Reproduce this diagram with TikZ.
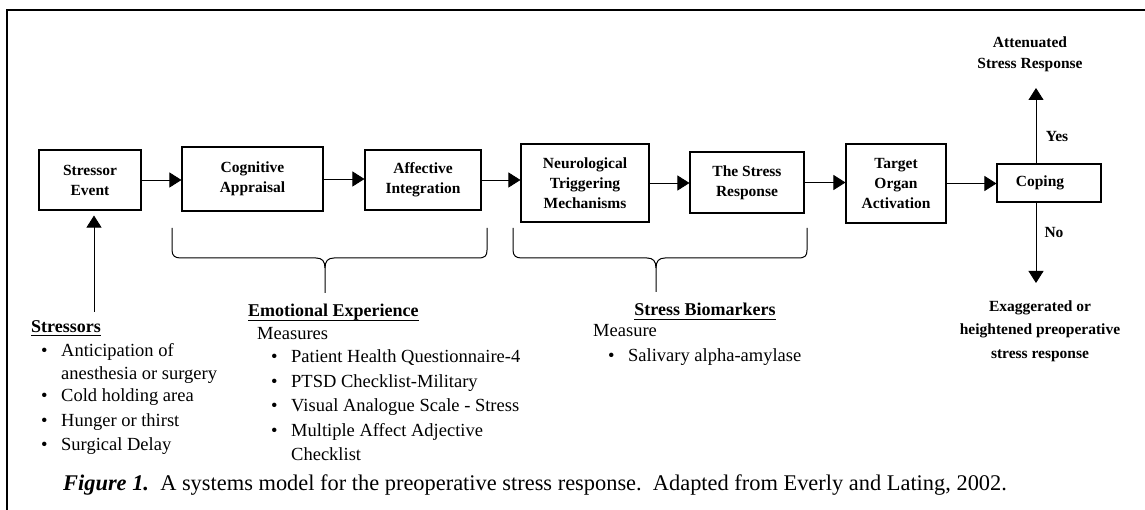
\documentclass[tikz,border=0pt]{standalone}
\usepackage{fontspec}
\setmainfont{Liberation Serif}
\usetikzlibrary{arrows.meta}
\newcommand{\bul}[1]{\makebox[20pt][l]{\textbullet}#1}
\begin{document}
\begin{tikzpicture}[x=1pt,y=-1pt,
  box/.style={draw, line width=1.1pt, align=center, inner sep=0pt, font=\fontsize{15.5}{20}\selectfont\bfseries},
  flow/.style={line width=0.8pt, -{Triangle[length=12pt,width=15pt]}},
  lbl/.style={align=center, inner sep=0pt, font=\fontsize{15.5}{21}\selectfont\bfseries},
  txt/.style={anchor=base west, inner sep=0pt, font=\fontsize{18.5}{20}\selectfont},
  head/.style={txt, font=\fontsize{18}{20}\selectfont\bfseries},
  uline/.style={line width=0.9pt},
  brace/.style={line width=1pt}
]
\useasboundingbox (0,0) rectangle (1145,510);
\draw[line width=1.5pt] (7,510) -- (7,10) -- (1145,10);

% boxes
\node[box, minimum width=102pt, minimum height=60pt] (se) at (90,180) {Stressor\\Event};
\node[box, minimum width=141pt, minimum height=64pt] (ca) at (252.5,179) {Cognitive\\Appraisal};
\node[box, minimum width=116pt, minimum height=60pt] (ai) at (423,180) {Affective\\Integration};
\node[box, minimum width=128pt, minimum height=78pt] (nt) at (585,183) {Neurological\\Triggering\\Mechanisms};
\node[box, minimum width=114pt, minimum height=61pt] (sr) at (747,182.5) {The Stress\\Response};
\node[box, minimum width=100pt, minimum height=79pt] (to) at (896,183.5) {Target\\Organ\\Activation};
\node[box, minimum width=104pt, minimum height=38pt] (cp) at (1049,183) {\hspace*{-18pt}Coping};

% flow arrows
\draw[flow] (se.east) -- (se.east -| ca.west);
\draw[flow] (ca.east) -- (ca.east -| ai.west);
\draw[flow] (ai.east) -- (ai.east -| nt.west);
\draw[flow] (nt.east) -- (nt.east -| sr.west);
\draw[flow] (sr.east) -- (sr.east -| to.west);
\draw[flow] (to.east) -- (to.east -| cp.west);

% coping outcomes
\node[lbl] (att) at (1030,54) {Attenuated\\Stress Response};
\coordinate (atttip) at (1036,88);
\draw[flow] (cp.north -| atttip) -- (atttip);
\node[lbl] (yes) at (1057,137) {Yes};
\node[lbl] (no) at (1054,233) {No};
\coordinate (exatip) at (1036,283);
\draw[flow] (cp.south -| exatip) -- (exatip);
\node[lbl, font=\fontsize{15.5}{23.5}\selectfont\bfseries] (exa) at (1040,331) {Exaggerated or\\heightened preoperative\\stress response};

% stressor arrow
\coordinate (st) at (94,312);
\draw[flow, shorten >=5pt] (st) -- (st |- se.south);

% braces
\draw[brace] (172,228) -- (172,250) .. controls (172,256) and (175,258) .. (181,258) -- (316,258) .. controls (322,258) and (325,261) .. (325,268) -- (325,293);
\draw[brace] (325,268) .. controls (325,261) and (328,258) .. (334,258) -- (478,258) .. controls (485,258) and (487,256) .. (487,250) -- (487,228);
\draw[brace] (513,228) -- (513,250) .. controls (513,256) and (516,258) .. (522,258) -- (647,258) .. controls (653,258) and (656,261) .. (656,268) -- (656,292);
\draw[brace] (656,268) .. controls (656,261) and (659,258) .. (665,258) -- (798,258) .. controls (805,258) and (807,256) .. (807,250) -- (807,228);

% Stressors list
\node[head] (h1) at (31,332) {Stressors};
\draw[uline] ([yshift=-3pt]h1.base west) -- ([yshift=-3pt]h1.base east);
\node[txt] (s1) at (41,356) {\bul{Anticipation of}};
\node[txt] (s1b) at (61,379) {anesthesia or surgery};
\node[txt] (s2) at (41,401) {\bul{Cold holding area}};
\node[txt] (s3) at (41,426) {\bul{Hunger or thirst}};
\node[txt] (s4) at (41,450) {\bul{Surgical Delay}};

% Emotional experience
\node[head] (h2) at (248,317) {Emotional Experience};
\draw[uline] ([yshift=-3pt]h2.base west) -- ([yshift=-3pt]h2.base east);
\node[txt] (m0) at (257,339) {Measures};
\node[txt] (m1) at (271,362) {\bul{Patient Health Questionnaire-4}};
\node[txt] (m2) at (271,387) {\bul{PTSD Checklist-Military}};
\node[txt] (m3) at (271,411) {\bul{Visual Analogue Scale - Stress}};
\node[txt] (m4) at (271,436) {\bul{Multiple Affect Adjective}};
\node[txt] (m4b) at (291,460) {Checklist};

% Stress biomarkers
\node[head, anchor=base] (h3) at (705,316) {Stress Biomarkers};
\draw[uline] ([yshift=-3pt]h3.base west) -- ([yshift=-3pt]h3.base east);
\node[txt] (b0) at (593,337) {Measure};
\node[txt] (b1) at (608,361) {\bul{Salivary alpha-amylase}};

% caption
\node[anchor=base west, inner sep=0pt, font=\fontsize{22.4}{26}\selectfont] (cap) at (63,490) {\textbf{\textit{Figure 1.}}\ \ A systems model for the preoperative stress response.\ \ Adapted from Everly and Lating, 2002.};
\end{tikzpicture}
\end{document}
